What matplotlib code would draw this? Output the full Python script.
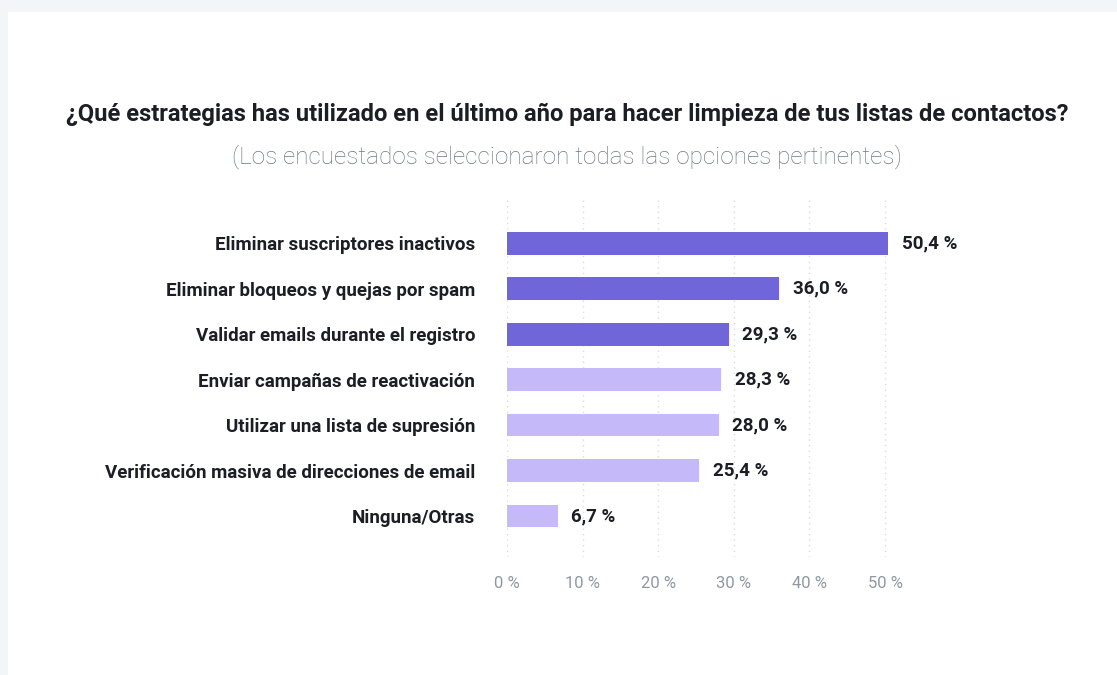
import matplotlib.pyplot as plt
from matplotlib.patches import Rectangle

plt.rcParams['font.family'] = ['Roboto', 'DejaVu Sans']

categories = ["Eliminar suscriptores inactivos",
              "Eliminar bloqueos y quejas por spam",
              "Validar emails durante el registro",
              "Enviar campañas de reactivación",
              "Utilizar una lista de supresión",
              "Verificación masiva de direcciones de email",
              "Ninguna/Otras"]
values = [50.4, 36.0, 29.3, 28.3, 28.0, 25.4, 6.7]
highlight = [True, True, True, False, False, False, False]
ticks = [0, 10, 20, 30, 40, 50]

DARK = "#7066d9"
LIGHT = "#c5b9f9"
TEXT = "#1b1e24"
GREY = "#8f98a2"

fig = plt.figure(figsize=(11.17, 6.75), dpi=100)
fig.patch.set_facecolor("#f3f6f9")
# white card behind everything
fig.patches.append(Rectangle((8 / 1117, 0), 1 - 8 / 1117, 1 - 12 / 675,
                             transform=fig.transFigure, facecolor="white",
                             edgecolor="none", zorder=-10))

ax = fig.add_axes([507 / 1117, 1 - 557 / 675, 378 / 1117 * 1.1, 357 / 675])
ax.set_facecolor("none")
ax.set_zorder(5)

y = list(range(len(categories)))
colors = [DARK if h else LIGHT for h in highlight]
ax.barh(y, values, height=0.5, color=colors, zorder=3)

for yi, v in zip(y, values):
    ax.text(v + 1.8, yi, f"{v:.1f} %".replace(".", ","), va="center", ha="left",
            fontsize=13.5, fontweight="bold", color=TEXT)

ax.set_xlim(0, 55)
ax.set_ylim(6.9, -0.95)
ax.set_xticks(ticks)
ax.set_xticklabels([f"{t} %" for t in ticks], fontsize=12, color=GREY,
                   fontweight="normal")
ax.set_yticks(y)
ax.set_yticklabels(categories, fontsize=13.5, fontweight="bold", color=TEXT)
ax.tick_params(axis="both", length=0)
ax.tick_params(axis="y", pad=23)
ax.tick_params(axis="x", pad=14)
ax.grid(axis="x", color="#d9dde2", linestyle=(0, (1, 3)), linewidth=1, zorder=0)
for s in ax.spines.values():
    s.set_visible(False)

fig.text(567 / 1117, 1 - 114 / 675,
         "¿Qué estrategias has utilizado en el último año para hacer limpieza de tus listas de contactos?",
         ha="center", va="center", fontsize=17.1, fontweight="bold", color=TEXT)
fig.text(567 / 1117, 1 - 157 / 675,
         "(Los encuestados seleccionaron todas las opciones pertinentes)",
         ha="center", va="center", fontsize=17.5, fontweight="light", color="#6e7883")

fig.savefig("out.png", dpi=100, facecolor=fig.get_facecolor())
